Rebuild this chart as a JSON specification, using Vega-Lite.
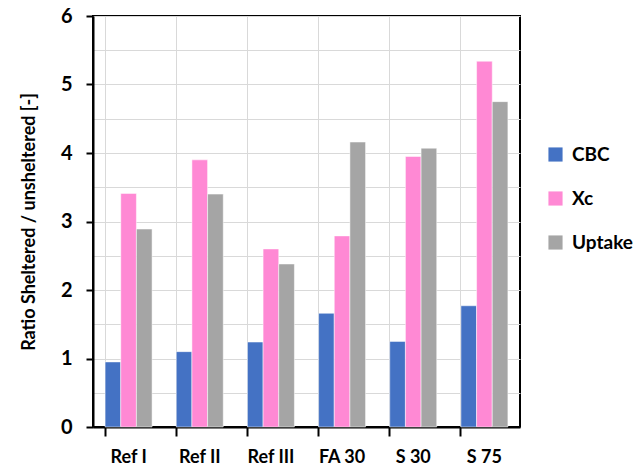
{
  "$schema": "https://vega.github.io/schema/vega-lite/v6.json",
  "autosize": "none",
  "width": 427,
  "height": 411,
  "padding": {"left": 93, "top": 16, "right": 120, "bottom": 43},
  "background": "white",
  "config": {
    "font": "Lato",
    "view": {"stroke": "black", "strokeWidth": 2}
  },
  "data": {
    "values": [
      {"group": "Ref I", "series": "CBC", "value": 0.95},
      {"group": "Ref I", "series": "Xc", "value": 3.41},
      {"group": "Ref I", "series": "Uptake", "value": 2.89},
      {"group": "Ref II", "series": "CBC", "value": 1.10},
      {"group": "Ref II", "series": "Xc", "value": 3.90},
      {"group": "Ref II", "series": "Uptake", "value": 3.40},
      {"group": "Ref III", "series": "CBC", "value": 1.24},
      {"group": "Ref III", "series": "Xc", "value": 2.60},
      {"group": "Ref III", "series": "Uptake", "value": 2.38},
      {"group": "FA 30", "series": "CBC", "value": 1.66},
      {"group": "FA 30", "series": "Xc", "value": 2.79},
      {"group": "FA 30", "series": "Uptake", "value": 4.16},
      {"group": "S 30", "series": "CBC", "value": 1.25},
      {"group": "S 30", "series": "Xc", "value": 3.95},
      {"group": "S 30", "series": "Uptake", "value": 4.07},
      {"group": "S 75", "series": "CBC", "value": 1.77},
      {"group": "S 75", "series": "Xc", "value": 5.34},
      {"group": "S 75", "series": "Uptake", "value": 4.75}
    ]
  },
  "mark": {"type": "bar", "stroke": "white", "strokeWidth": 0.5},
  "encoding": {
    "x": {
      "field": "group",
      "type": "nominal",
      "sort": ["Ref I", "Ref II", "Ref III", "FA 30", "S 30", "S 75"],
      "scale": {"paddingInner": 0.34, "paddingOuter": 0.17},
      "axis": {
        "title": null,
        "labelAngle": 0,
        "labelFont": "Lato",
        "labelFontWeight": "bold",
        "labelFontSize": 18,
        "labelColor": "black",
        "labelPadding": 12,
        "domainColor": "black",
        "domainWidth": 2,
        "tickColor": "black",
        "tickWidth": 2,
        "tickSize": 9,
        "bandPosition": 0,
        "grid": true,
        "gridColor": "#d9d9d9",
        "gridWidth": 1
      }
    },
    "xOffset": {
      "field": "series",
      "type": "nominal",
      "sort": ["CBC", "Xc", "Uptake"],
      "scale": {"paddingInner": 0, "paddingOuter": 0}
    },
    "y": {
      "field": "value",
      "type": "quantitative",
      "scale": {"domain": [0, 6], "nice": false},
      "axis": {
        "title": "Ratio Sheltered / unsheltered [-]",
        "titleFont": "Lato",
        "titleFontWeight": "bold",
        "titleFontSize": 18,
        "titleColor": "black",
        "titleX": -55,
        "values": [0, 0.5, 1, 1.5, 2, 2.5, 3, 3.5, 4, 4.5, 5, 5.5, 6],
        "labelExpr": "datum.value % 1 === 0 ? format(datum.value, 'd') : ''",
        "labelFont": "Lato",
        "labelFontWeight": "bold",
        "labelFontSize": 20,
        "labelColor": "black",
        "labelPadding": 14,
        "domainColor": "black",
        "domainWidth": 2,
        "tickColor": "black",
        "tickWidth": 2,
        "tickSize": 7,
        "tickOpacity": {"condition": {"test": "datum.value % 1 === 0", "value": 1}, "value": 0},
        "grid": true,
        "gridColor": "#d9d9d9",
        "gridWidth": 1
      }
    },
    "color": {
      "field": "series",
      "type": "nominal",
      "sort": ["CBC", "Xc", "Uptake"],
      "scale": {"domain": ["CBC", "Xc", "Uptake"], "range": ["#4472C4", "#FF89D4", "#A5A5A5"]},
      "legend": {
        "title": null,
        "orient": "none",
        "legendX": 453,
        "legendY": 129,
        "symbolType": "square",
        "symbolSize": 200,
        "symbolStrokeWidth": 0,
        "labelFont": "Lato",
        "labelFontWeight": "bold",
        "labelFontSize": 19,
        "labelColor": "black",
        "labelOffset": 7,
        "rowPadding": 24
      }
    }
  }
}
